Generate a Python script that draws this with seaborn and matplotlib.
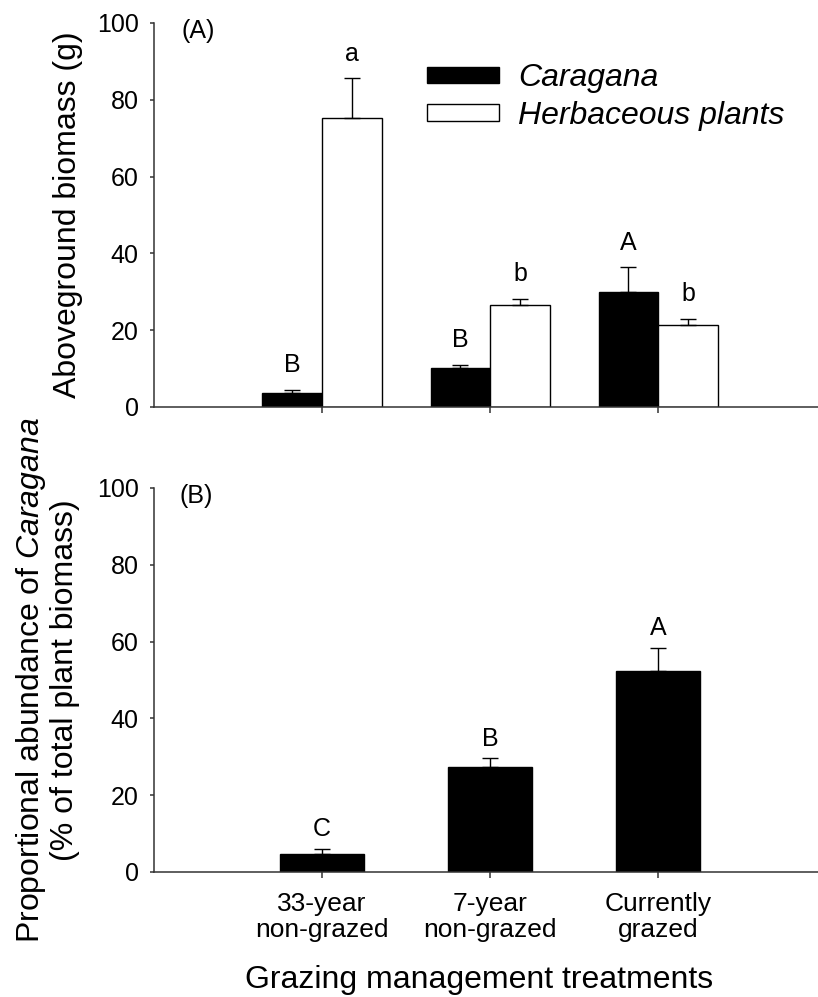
import numpy as np
import pandas as pd
import matplotlib
matplotlib.use('Agg')
import matplotlib.pyplot as plt
from matplotlib.patches import Patch
import seaborn as sns

# ── data ──────────────────────────────────────────────────────────────────
treatments = ['33-year\nnon-grazed', '7-year\nnon-grazed', 'Currently\ngrazed']
groups = ['Caragana', 'Herbaceous plants']

caragana_mass = [3.6, 10.2, 29.9]
caragana_se = [0.9, 0.8, 6.5]
caragana_letters = ['B', 'B', 'A']

herb_mass = [75.3, 26.6, 21.3]
herb_se = [10.4, 1.6, 1.7]
herb_letters = ['a', 'b', 'b']

prop_abund = [4.8, 27.4, 52.4]
prop_se = [1.2, 2.2, 6.0]
prop_letters = ['C', 'B', 'A']

# ── style ─────────────────────────────────────────────────────────────────
sns.set_style('ticks')
plt.rcParams['font.family'] = ['Liberation Sans', 'DejaVu Sans']
plt.rcParams['mathtext.fontset'] = 'custom'
plt.rcParams['mathtext.rm'] = 'Liberation Sans'
plt.rcParams['mathtext.it'] = 'Liberation Sans:italic'
plt.rcParams['text.color'] = 'black'
plt.rcParams['axes.labelcolor'] = 'black'

SPINE = '#333333'

top_df = pd.DataFrame({
    'treatment': treatments * 2,
    'group': [groups[0]] * 3 + [groups[1]] * 3,
    'biomass': caragana_mass + herb_mass,
})
bot_df = pd.DataFrame({'treatment': treatments, 'prop': prop_abund})

fig = plt.figure(figsize=(8.18, 9.97), dpi=100)
ax1 = fig.add_axes([0.1883, 0.5918, 0.8117, 0.3852])
ax2 = fig.add_axes([0.1883, 0.1254, 0.8117, 0.3852])

sns.barplot(data=top_df, x='treatment', y='biomass', hue='group',
            palette=['black', 'white'], edgecolor='black', linewidth=1.0,
            width=0.71, errorbar=None, legend=False, ax=ax1)
sns.barplot(data=bot_df, x='treatment', y='prop', color='black',
            edgecolor='black', linewidth=1.0, width=0.5,
            errorbar=None, ax=ax2)


def add_err_letters(ax, bars, se, letters, offset):
    xs = [b.get_x() + b.get_width() / 2 for b in bars]
    hs = [b.get_height() for b in bars]
    ax.errorbar(xs, hs, yerr=[np.zeros(len(se)), se], fmt='none',
                ecolor='black', elinewidth=1.0, capsize=6, capthick=1.0,
                zorder=3)
    for x, h, s, lab in zip(xs, hs, se, letters):
        ax.text(x, h + s + offset, lab, ha='center', va='bottom', fontsize=18)


add_err_letters(ax1, ax1.containers[0], caragana_se, caragana_letters, 3.2)
add_err_letters(ax1, ax1.containers[1], herb_se, herb_letters, 3.2)
add_err_letters(ax2, ax2.containers[0], prop_se, prop_letters, 2.0)

for ax in (ax1, ax2):
    ax.set_xlim(-1.0, 2.95)
    ax.set_ylim(0, 100)
    ax.set_yticks([0, 20, 40, 60, 80, 100])
    sns.despine(ax=ax)
    for side in ('left', 'bottom'):
        ax.spines[side].set_color(SPINE)
        ax.spines[side].set_linewidth(1.1)
    ax.tick_params(axis='y', length=3, width=1.1, color=SPINE, pad=8,
                   labelsize=18, labelcolor='black')
    ax.tick_params(axis='x', length=4.3, width=1.1, color=SPINE, pad=10,
                   labelsize=19, labelcolor='black')
    ax.set_xlabel('')

ax1.set_xticklabels([])
ax2.set_xticklabels(treatments, multialignment='center', linespacing=1.1)

ax1.set_ylabel('Aboveground biomass (g)', fontsize=23)
ax1.yaxis.set_label_coords(-0.107, 0.5)
ax2.set_ylabel('Proportional abundance of $\\it{Caragana}$\n(% of total plant biomass)',
               fontsize=23, linespacing=1.1)
ax2.yaxis.set_label_coords(-0.111, 0.5)
ax2.set_xlabel('Grazing management treatments', fontsize=23)
ax2.xaxis.set_label_coords(0.49, -0.242)

ax1.text(0.041, 1.01, '(A)', transform=ax1.transAxes, ha='left', va='top',
         fontsize=18)
ax2.text(0.038, 1.01, '(B)', transform=ax2.transAxes, ha='left', va='top',
         fontsize=18)

handles = [Patch(facecolor='black', edgecolor='black', linewidth=1.0),
           Patch(facecolor='white', edgecolor='black', linewidth=1.0)]
ax1.legend(handles, groups, loc='upper left',
           bbox_to_anchor=(427 / 818, 1 - 63 / 997),
           bbox_transform=fig.transFigure, frameon=False,
           prop={'size': 23, 'style': 'italic'},
           handlelength=2.25, handleheight=0.4, handletextpad=0.6,
           labelspacing=0.25, borderpad=0, borderaxespad=0)

fig.savefig('out.png', dpi=100)
